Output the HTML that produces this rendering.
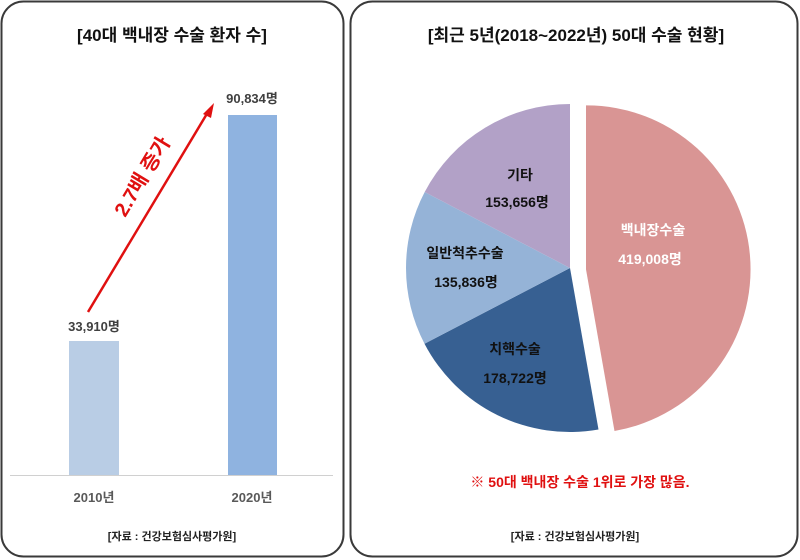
<!DOCTYPE html>
<html><head><meta charset="utf-8"><style>
html,body{margin:0;padding:0;background:#fff}
svg{display:block;font-family:"Liberation Sans","Noto Sans CJK KR",sans-serif}
</style></head><body>
<svg width="800" height="560" viewBox="0 0 800 560">
<rect x="0" y="0" width="800" height="560" fill="#fff"/>
<rect x="1.5" y="1.5" width="342" height="555" rx="22" fill="#fff" stroke="#3a3a3a" stroke-width="2"/>
<rect x="350.5" y="1.5" width="447" height="555" rx="22" fill="#fff" stroke="#3a3a3a" stroke-width="2"/>

<text x="172" y="41" text-anchor="middle" font-size="17" font-weight="bold" fill="#111">[40대 백내장 수술 환자 수]</text>
<rect x="69" y="341" width="50" height="134" fill="#b9cde5"/>
<rect x="228" y="115" width="49" height="360" fill="#8fb3e0"/>
<line x1="10" y1="475.5" x2="333" y2="475.5" stroke="#d0d0d0" stroke-width="1"/>
<text x="94" y="331" text-anchor="middle" font-size="13" font-weight="bold" fill="#404040">33,910명</text>
<text x="252" y="103" text-anchor="middle" font-size="13" font-weight="bold" fill="#404040">90,834명</text>
<text x="94" y="502" text-anchor="middle" font-size="13" font-weight="bold" fill="#595959">2010년</text>
<text x="252" y="502" text-anchor="middle" font-size="13" font-weight="bold" fill="#595959">2020년</text>
<line x1="88" y1="312" x2="208" y2="112" stroke="#e01010" stroke-width="2.5"/>
<polygon points="214,103 203,114 211,118" fill="#e01010"/>
<text x="0" y="0" transform="translate(148,180) rotate(-59)" text-anchor="middle" font-size="20" font-weight="bold" fill="#e01010">2.7배 증가</text>
<text x="172" y="540" text-anchor="middle" font-size="11" font-weight="bold" fill="#222">[자료 : 건강보험심사평가원]</text>

<text x="576" y="41" text-anchor="middle" font-size="17" font-weight="bold" fill="#111">[최근 5년(2018~2022년) 50대 수술 현황]</text>
<path d="M586,269.4 L586,105.4 A164,164 0 0 1 614.5,431 Z" fill="#d99594"/>
<path d="M570,268 L598.5,429.5 A164,164 0 0 1 424.5,343.7 Z" fill="#376092"/>
<path d="M570,268 L424.5,343.7 A164,164 0 0 1 424.7,192 Z" fill="#95b3d7"/>
<path d="M570,268 L424.7,192 A164,164 0 0 1 570,104 Z" fill="#b2a1c7"/>
<g font-size="14" font-weight="bold" text-anchor="middle">
<text x="520" y="180" fill="#111">기타</text>
<text x="517" y="207" fill="#111">153,656명</text>
<text x="653" y="235" fill="#fff">백내장수술</text>
<text x="650" y="264" fill="#fff">419,008명</text>
<text x="465" y="258" fill="#111">일반척추수술</text>
<text x="466" y="287" fill="#111">135,836명</text>
<text x="515" y="354" fill="#111">치핵수술</text>
<text x="515" y="383" fill="#111">178,722명</text>
</g>
<text x="580" y="487" text-anchor="middle" font-size="14" font-weight="bold" fill="#e01010">※ 50대 백내장 수술 1위로 가장 많음.</text>
<text x="575" y="540" text-anchor="middle" font-size="11" font-weight="bold" fill="#222">[자료 : 건강보험심사평가원]</text>
</svg>
</body></html>
